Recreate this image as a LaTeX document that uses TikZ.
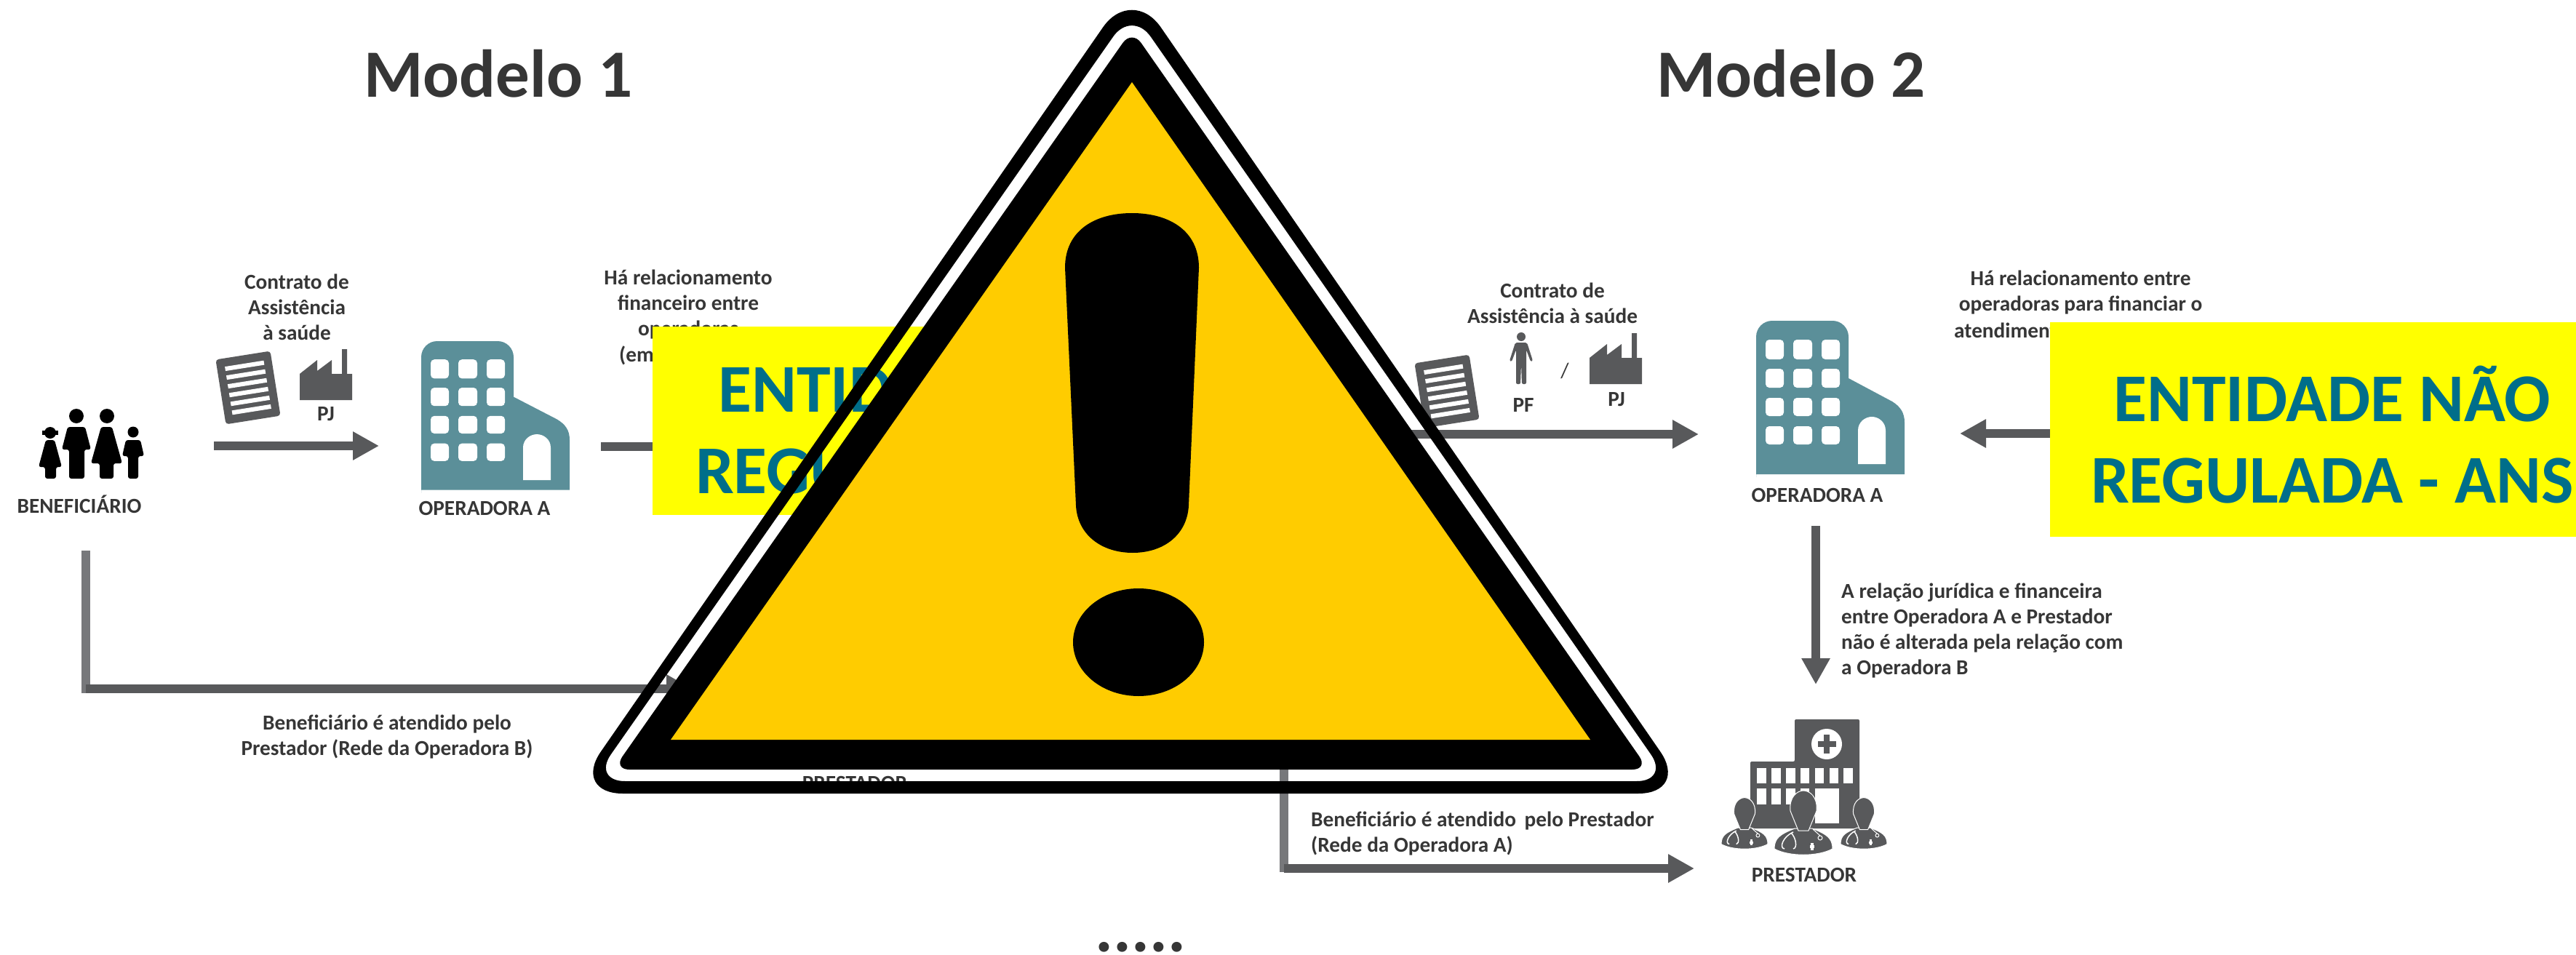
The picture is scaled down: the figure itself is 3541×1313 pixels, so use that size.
\documentclass[tikz,border=0pt]{standalone}
\usepackage{fontspec}
\setmainfont{Carlito}
\usetikzlibrary{arrows.meta}
\definecolor{icongrey}{HTML}{58595B}
\definecolor{linegrey}{HTML}{77787B}
\definecolor{labelgrey}{HTML}{363636}
\definecolor{tealbldg}{HTML}{5B8F99}
\definecolor{tealtext}{HTML}{006E8A}
\definecolor{signyellow}{HTML}{FFCC00}
\definecolor{boxyellow}{RGB}{255,255,0}

\begin{document}
\begin{tikzpicture}[x=1pt,y=-1pt]
    \tikzset{title/.style={font=\fontsize{93}{100}\selectfont\bfseries, text=labelgrey, inner sep=0pt}};
    \tikzset{lbl/.style={font=\fontsize{29.3}{35}\selectfont\bfseries, text=labelgrey, inner sep=0pt, align=center}};
    \tikzset{lblleft/.style={lbl, align=left, anchor=west}};
    \tikzset{boxtext/.style={font=\fontsize{94}{112}\selectfont\bfseries, text=tealtext, inner sep=0pt, align=center}};
    \tikzset{yellowbox/.style={fill=boxyellow, inner sep=0pt}};
    \tikzset{flow/.style={draw=icongrey, line width=12.5pt, -{Triangle[length=36pt,width=37pt]}}};
    \tikzset{stem/.style={draw=linegrey, line width=12pt}};
    \tikzset{building/.pic={
        \fill[tealbldg, rounded corners=22pt] (0,215) -- (0,0) -- (127,0) -- (127,60) [sharp corners] -- (127,79) -- (187,111) .. controls (198,118) and (204,126) .. (204,140) -- (204,211) -- (0,211) -- cycle;
        \fill[white, rounded corners=5pt] (13,26) rectangle (38,53);
        \fill[white, rounded corners=5pt] (51,26) rectangle (77,53);
        \fill[white, rounded corners=5pt] (90,26) rectangle (115,53);
        \fill[white, rounded corners=5pt] (13,66) rectangle (38,92);
        \fill[white, rounded corners=5pt] (51,66) rectangle (77,92);
        \fill[white, rounded corners=5pt] (90,66) rectangle (115,92);
        \fill[white, rounded corners=5pt] (13,106) rectangle (38,131);
        \fill[white, rounded corners=5pt] (51,106) rectangle (77,131);
        \fill[white, rounded corners=5pt] (90,106) rectangle (115,131);
        \fill[white, rounded corners=5pt] (13,145) rectangle (38,170);
        \fill[white, rounded corners=5pt] (51,145) rectangle (77,170);
        \fill[white, rounded corners=5pt] (90,145) rectangle (115,170);
        \fill[white] (140,197) -- (140,151) .. controls (140,139) and (150,132) .. (159,132) .. controls (168,132) and (178,139) .. (178,151) -- (178,197) -- cycle;
    }};
    \tikzset{paper/.pic={
        \fill[icongrey, rounded corners=4pt] (-38,-45) rectangle (38,45);
        \fill[white] (-27,-33.5) rectangle (27,-27.5);
        \fill[white] (-27,-21.3) rectangle (27,-15.3);
        \fill[white] (-27,-9.1) rectangle (27,-3.1);
        \fill[white] (-27,3.1) rectangle (27,9.1);
        \fill[white] (-27,15.3) rectangle (27,21.3);
        \fill[white] (-27,27.5) rectangle (27,33.5);
    }};
    \tikzset{factory/.pic={
        \fill[icongrey] (0,70) -- (0,34) -- (24,15) -- (24,30) -- (44,15) -- (44,34) -- (58,34) -- (58,0) -- (65,0) -- (65,34) -- (72,34) -- (72,70) -- cycle;
    }};
    \tikzset{doctor/.pic={
        \path[fill=icongrey, draw=white, line width=1pt] (-40,27) .. controls (-40,12) and (-32,7) .. (-12,-1) -- (12,-1) .. controls (32,7) and (40,12) .. (40,27) .. controls (20,38) and (-20,38) .. (-40,27) -- cycle;
        \path[fill=icongrey, draw=white, line width=1pt] (-7,2) -- (-18,-25) .. controls (-20,-45) and (-8,-53) .. (0,-53) .. controls (8,-53) and (20,-45) .. (18,-25) -- (7,2) -- cycle;
        \draw[white, line width=1.5pt] (-14,4) .. controls (-28,10) and (-34,26) .. (-26,27);
        \draw[white, line width=1.5pt] (-17,5) .. controls (-10,12) and (-8,26) .. (-14,27);
        \fill[white] (9,22) rectangle (15,26);
        \fill[white] (10,19) rectangle (14,29);
        \draw[white, line width=1pt] (23,12) circle (3pt);
        \draw[white, line width=1pt] (13,0) -- (23,9);
    }};
%%
    \useasboundingbox (0,0) rectangle (3541,1313);
    \fill[white] (0,0) rectangle (3541,1313);
%%
    \node (title1) at (685,101) [title] {Modelo 1};
    \node (title2) at (2462,101) [title] {Modelo 2};
    \node (dots) at (1568,1308) [title, anchor=base] {.....};
%%
  % modelo 1
  \fill[black] (105,572) circle (10pt);
  \fill[black] (147,572) circle (10pt);
  \fill[black] (69,595) circle (8pt);
  \fill[black] (183,594) circle (7.5pt);
  \fill[black] (58,592) rectangle (80,598);
  \fill[black, rounded corners=3pt] (93,587) -- (117,587) -- (125,618) -- (116,618) -- (116,658) -- (95,658) -- (95,618) -- (85,618) -- cycle;
  \fill[black, rounded corners=3pt] (139,587) -- (154,587) -- (168,637) -- (156,637) -- (156,658) -- (137,658) -- (137,637) -- (125,637) -- cycle;
  \fill[black, rounded corners=3pt] (63,605) -- (75,605) -- (85,642) -- (77,642) -- (77,658) -- (62,658) -- (62,642) -- (53,642) -- cycle;
  \fill[black, rounded corners=3pt] (173,605) -- (193,605) -- (198,627) -- (190,627) -- (190,658) -- (176,658) -- (176,627) -- (168,627) -- cycle;
  \node (benef) at (109,693) [lbl] {BENEFICIÁRIO};
  \node (contrato1) at (408,422) [lbl] {Contrato de\\Assistência\\à saúde};
  \pic[rotate=9] at (341,533) {paper};
  \pic at (412,480) {factory};
  \node (pj1) at (448,569) [lbl] {PJ};
  \pic[yscale=0.97] at (579,469) {building};
  \node (opA1) at (666,699) [lbl] {OPERADORA A};
  \node (rel1) at (946,419) [lbl] {Há relacionamento\\financeiro entre\\operadoras};
  \node (rel1b) at (851,489) [lblleft] {(em};
  \node (atend1) at (532,1013) [lbl] {Beneficiário é atendido pelo\\Prestador (Rede da Operadora B)};
  \node (prest1) at (1175,1077) [lbl] {PRESTADOR};
  \coordinate (a1) at (294,613);
  \coordinate (a2) at (521,613);
  \coordinate (b1) at (826,614);
  \coordinate (b2) at (1000,614);
  \coordinate (c1) at (118,757);
  \coordinate (c2) at (118,953);
  \coordinate (c3) at (118,947);
  \coordinate (c4) at (952,947);
  \draw [flow] (a1) -- (a2);
  \draw [flow] (b1) -- (b2);
  \draw [stem] (c1) -- (c2);
  \draw [flow] (c3) -- (c4);
  \node (box1) at (1286,578.5) [yellowbox, minimum width=778pt, minimum height=259pt] {};
  \node (txt1) at (1288,585) [boxtext] {ENTIDADE NÃO\\REGULADA - ANS};
%%
  % modelo 2
  \node (contrato2) at (2134,417) [lbl] {Contrato de\\Assistência à saúde};
  \pic[rotate=9] at (1989,538) {paper};
  \fill[icongrey] (2091,463) circle (6pt);
  \fill[icongrey, rounded corners=2pt] (2083,471) -- (2099,471) -- (2107,496) -- (2104,497) -- (2098,481) -- (2098,528) -- (2092,528) -- (2091,500) -- (2090,528) -- (2084,528) -- (2084,481) -- (2078,497) -- (2075,496) -- cycle;
  \node (pf2) at (2094,557) [lbl] {PF};
  \node (slash2) at (2151,510) [lbl, font=\fontsize{29.3}{35}\selectfont] {/};
  \pic at (2185,458) {factory};
  \node (pj2) at (2222,549) [lbl] {PJ};
  \pic at (2414,441) {building};
  \node (opA2) at (2498,681) [lbl] {OPERADORA A};
  \node (rel2) at (2860,402) [lbl] {Há relacionamento entre\\operadoras para financiar o};
  \node (rel2b) at (2686,454) [lblleft] {atendimento};
  \node (rel3) at (2531,866.5) [lblleft] {A relação jurídica e financeira\\entre Operadora A e Prestador\\não é alterada pela relação com\\a Operadora B};
  \node (atend2) at (1802,1146) [lblleft] {Beneficiário é atendido\, pelo Prestador\\(Rede da Operadora A)};
  % prestador
  \fill[icongrey, rounded corners=2pt] (2406,1139) -- (2406,1047) -- (2467,1047) -- (2467,989) -- (2556,989) -- (2556,1139) -- cycle;
  \fill[white] (2511,1023) circle (21pt);
  \fill[icongrey] (2499,1019) rectangle (2524,1027);
  \fill[icongrey] (2507,1010) rectangle (2515,1036);
  \fill[white] (2415,1056) rectangle (2428,1077);
  \fill[white] (2435,1056) rectangle (2448,1077);
  \fill[white] (2455,1056) rectangle (2468,1077);
  \fill[white] (2475,1056) rectangle (2487,1077);
  \fill[white] (2495,1056) rectangle (2507,1077);
  \fill[white] (2515,1056) rectangle (2527,1077);
  \fill[white] (2534,1056) rectangle (2547,1077);
  \fill[white] (2415,1084) rectangle (2428,1106);
  \fill[white] (2435,1084) rectangle (2448,1106);
  \fill[white] (2455,1084) rectangle (2468,1106);
  \fill[white] (2475,1084) rectangle (2487,1106);
  \fill[white] (2495,1084) rectangle (2528,1132);
  \pic[scale=0.8] at (2398,1139) {doctor};
  \pic[scale=0.8] at (2562,1139) {doctor};
  \pic at (2479,1140) {doctor};
  \node (prest2) at (2480,1203) [lbl] {PRESTADOR};
  \coordinate (d1) at (1940,597);
  \coordinate (d2) at (2335,597);
  \coordinate (e1) at (2900,596);
  \coordinate (e2) at (2694,596);
  \coordinate (f1) at (2496,723);
  \coordinate (f2) at (2496,941);
  \coordinate (g1) at (1765,1030);
  \coordinate (g2) at (1765,1199);
  \coordinate (g3) at (1765,1194);
  \coordinate (g4) at (2329,1194);
  \draw [flow] (d1) -- (d2);
  \draw [flow] (e1) -- (e2);
  \draw [flow, line width=11.5pt] (f1) -- (f2);
  \draw [stem] (g1) -- (g2);
  \draw [flow, line width=11.5pt] (g3) -- (g4);
  \node (box2) at (3179.5,590.5) [yellowbox, minimum width=723pt, minimum height=295pt] {};
  \node (txt2) at (3206,598) [boxtext] {ENTIDADE NÃO\\REGULADA - ANS};
%%
  % sinal de alerta
  \fill[black, even odd rule, rounded corners=70pt] (1556,1091) -- (786,1091) -- (1556,-20) -- (2322,1091) -- cycle
        [rounded corners=45pt] (1556,1074) -- (814,1074) -- (1556,13.5) -- (2295,1074) -- cycle;
  \fill[black, rounded corners=22pt] (1556,1058) -- (843,1058) -- (1556,41) -- (2266,1058) -- cycle;
  \fill[signyellow] (1556,113) -- (922,1017) -- (2186,1017) -- cycle;
  \fill[black] (1464,368) .. controls (1464,317) and (1505,293) .. (1556,293) .. controls (1607,293) and (1648,317) .. (1648,368) -- (1634,695) .. controls (1632,735) and (1600,760) .. (1557,760) .. controls (1514,760) and (1481,735) .. (1479,695) -- cycle;
  \fill[black] (1565,883) ellipse [x radius=90pt, y radius=74pt];
\end{tikzpicture}
\end{document}
